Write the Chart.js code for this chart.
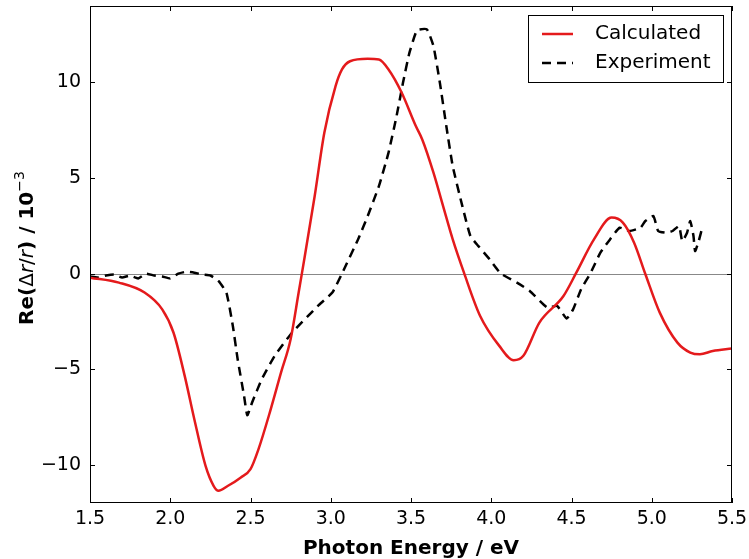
<!DOCTYPE html>
<html>
<head>
<meta charset="utf-8">
<script src="https://cdn.jsdelivr.net/npm/chart.js@4.4.1/dist/chart.umd.min.js"></script>
<style>
  html, body { margin: 0; padding: 0; background: #fff; }
  canvas { display: block; }
</style>
</head>
<body>
<canvas id="chart" width="749" height="559"></canvas>
<script>
// calculated spectrum
const calcEnergy = [1.5,1.68,1.84,1.95,2.02,2.09,2.15,2.22,2.27,2.30,2.36,2.44,2.50,2.55,2.62,2.69,2.75,2.80,2.82,2.90,2.96,3.03,3.07,3.12,3.23,3.30,3.36,3.44,3.53,3.57,3.64,3.70,3.76,3.83,3.93,4.05,4.14,4.20,4.30,4.45,4.53,4.64,4.75,4.82,4.89,4.96,5.05,5.16,5.24,5.30,5.38,5.5];
const calcValue = [-0.21,-0.47,-0.99,-1.87,-3.08,-5.35,-7.62,-10.06,-11.1,-11.36,-11.1,-10.66,-10.23,-9.18,-7.27,-5.18,-3.43,-0.99,0,4.06,7.37,9.81,10.68,11.11,11.24,11.2,10.68,9.5,7.72,7.02,5.28,3.53,1.79,0.05,-2.2,-3.78,-4.53,-4.3,-2.56,-1.17,0.05,1.79,2.93,2.67,1.62,-0.02,-2.04,-3.61,-4.13,-4.22,-4.05,-3.92];

// experiment
const expEnergy = [1.5,1.55,1.6,1.65,1.7,1.75,1.8,1.85,1.9,1.95,2.0,2.05,2.1,2.15,2.2,2.25,2.30,2.35,2.39,2.42,2.46,2.48,2.51,2.57,2.65,2.76,2.92,3.01,3.07,3.17,3.23,3.30,3.36,3.41,3.45,3.49,3.53,3.55,3.60,3.64,3.68,3.72,3.76,3.82,3.87,3.92,3.99,4.06,4.16,4.24,4.35,4.41,4.47,4.51,4.56,4.62,4.68,4.74,4.80,4.86,4.93,4.96,5.01,5.04,5.09,5.13,5.17,5.19,5.22,5.24,5.26,5.27,5.29,5.31,5.32];
const expValue = [-0.15,-0.2,-0.1,-0.05,-0.2,-0.1,-0.25,0.0,-0.1,-0.15,-0.25,0.0,0.1,0.05,-0.05,-0.1,-0.38,-1.0,-2.74,-4.48,-6.4,-7.41,-6.74,-5.53,-4.31,-3.08,-1.69,-0.99,0,1.79,3.01,4.58,6.33,8.24,9.98,11.55,12.6,12.77,12.77,11.9,9.98,7.72,5.62,3.53,1.97,1.44,0.75,0.0,-0.47,-0.91,-1.78,-1.69,-2.35,-1.87,-0.82,0.05,1.1,1.79,2.4,2.23,2.4,2.75,3.01,2.23,2.14,2.23,2.49,1.7,2.14,2.75,1.97,1.18,1.62,2.23,2.3];

const xTicks = [1.5,2.0,2.5,3.0,3.5,4.0,4.5,5.0,5.5];
const yTicks = [-10,-5,0,5,10];

const FONT = "'DejaVu Sans', sans-serif";

const toPoints = (xs, ys) => xs.map((x, i) => ({x: x, y: ys[i]}));

// y title pieces: text, font, baseline shift
const yTitleParts = [
    ['Re(', 'bold 20px ' + FONT, 0],
    ['\u0394', '20px ' + FONT, 0],
    ['r', 'oblique 20px ' + FONT, 0],
    ['/', '20px ' + FONT, 0],
    ['r', 'oblique 20px ' + FONT, 0],
    [') / 10', 'bold 20px ' + FONT, 0],
    ['\u22123', '14px ' + FONT, -9]
];

// matplotlib style frame, inward ticks, zero line, y title and boxed legend
const framePlugin = {
    id: 'frame',
    beforeDatasetsDraw(chart){
        const {ctx, chartArea: a, scales: {y}} = chart;
        ctx.save();
        ctx.strokeStyle = '#888';
        ctx.lineWidth = 1;
        const y0 = Math.round(y.getPixelForValue(0)) + 0.5;
        ctx.beginPath();
        ctx.moveTo(a.left, y0);
        ctx.lineTo(a.right, y0);
        ctx.stroke();
        ctx.restore();
    },
    afterDraw(chart){
        const {ctx, chartArea: a, scales: {x, y}} = chart;
        ctx.save();
        ctx.strokeStyle = '#000';
        ctx.lineWidth = 1;
        ctx.strokeRect(a.left + 0.5, a.top + 0.5, a.right - a.left - 1, a.bottom - a.top - 1);
        ctx.beginPath();
        xTicks.forEach(v => {
            const px = Math.round(x.getPixelForValue(v)) + 0.5;
            ctx.moveTo(px, a.bottom); ctx.lineTo(px, a.bottom - 5);
            ctx.moveTo(px, a.top); ctx.lineTo(px, a.top + 5);
        });
        yTicks.forEach(v => {
            const py = Math.round(y.getPixelForValue(v)) + 0.5;
            ctx.moveTo(a.left, py); ctx.lineTo(a.left + 5, py);
            ctx.moveTo(a.right, py); ctx.lineTo(a.right - 5, py);
        });
        ctx.stroke();

        // y axis title
        ctx.save();
        ctx.translate(33, 248);
        ctx.rotate(-Math.PI / 2);
        ctx.fillStyle = '#000';
        ctx.textBaseline = 'alphabetic';
        let total = 0;
        yTitleParts.forEach(p => { ctx.font = p[1]; total += ctx.measureText(p[0]).width; });
        let cx = -total / 2;
        yTitleParts.forEach(p => {
            ctx.font = p[1];
            ctx.fillText(p[0], cx, p[2]);
            cx += ctx.measureText(p[0]).width;
        });
        ctx.restore();

        // legend box
        const bx = 528.5, by = 15.5, bw = 195, bh = 67;
        ctx.fillStyle = '#fff';
        ctx.fillRect(bx, by, bw, bh);
        ctx.strokeRect(bx, by, bw, bh);
        ctx.font = "20px " + FONT;
        ctx.textBaseline = 'middle';
        chart.data.datasets.forEach((ds, i) => {
            const ly = 34 + i * 29;
            ctx.strokeStyle = ds.borderColor;
            ctx.lineWidth = ds.borderWidth;
            ctx.setLineDash(ds.borderDash || []);
            ctx.beginPath();
            ctx.moveTo(542, ly);
            ctx.lineTo(573, ly);
            ctx.stroke();
            ctx.setLineDash([]);
            ctx.fillStyle = '#000';
            ctx.fillText(ds.label, 595, ly);
        });
        ctx.restore();
    }
};

new Chart(document.getElementById('chart'), {
    type: 'line',
    data: {
        datasets: [
            {
                label: 'Calculated',
                data: toPoints(calcEnergy, calcValue),
                borderColor: '#e41a1c',
                borderWidth: 2.5,
                pointRadius: 0,
                cubicInterpolationMode: 'monotone',
                fill: false
            },
            {
                label: 'Experiment',
                data: toPoints(expEnergy, expValue),
                borderColor: '#000',
                borderWidth: 2.5,
                borderDash: [9, 6],
                pointRadius: 0,
                tension: 0.15,
                fill: false
            }
        ]
    },
    options: {
        responsive: false,
        animation: false,
        layout: {padding: {top: 6, right: 17, left: 0, bottom: 0}},
        plugins: {legend: {display: false}, tooltip: {enabled: false}},
        scales: {
            x: {
                type: 'linear',
                min: 1.5,
                max: 5.5,
                afterBuildTicks: s => { s.ticks = xTicks.map(v => ({value: v})); },
                afterFit: s => { s.height = 56; s.paddingLeft = 0; s.paddingRight = 0; },
                grid: {display: false, drawTicks: false},
                border: {display: false},
                ticks: {
                    color: '#000',
                    padding: 5,
                    font: {family: FONT, size: 19},
                    callback: v => v.toFixed(1)
                },
                title: {
                    display: true,
                    text: 'Photon Energy / eV',
                    color: '#000',
                    padding: {top: 0, bottom: -2},
                    font: {family: FONT, size: 20, weight: 'bold'}
                }
            },
            y: {
                min: -12,
                max: 14,
                afterBuildTicks: s => { s.ticks = yTicks.map(v => ({value: v})); },
                afterFit: s => { s.width = 90; s.paddingTop = 0; s.paddingBottom = 0; },
                grid: {display: false, drawTicks: false},
                border: {display: false},
                ticks: {
                    color: '#000',
                    padding: 9,
                    font: {family: FONT, size: 19},
                    callback: v => String(v).replace('-', '\u2212')
                }
            }
        }
    },
    plugins: [framePlugin]
});
</script>
</body>
</html>
